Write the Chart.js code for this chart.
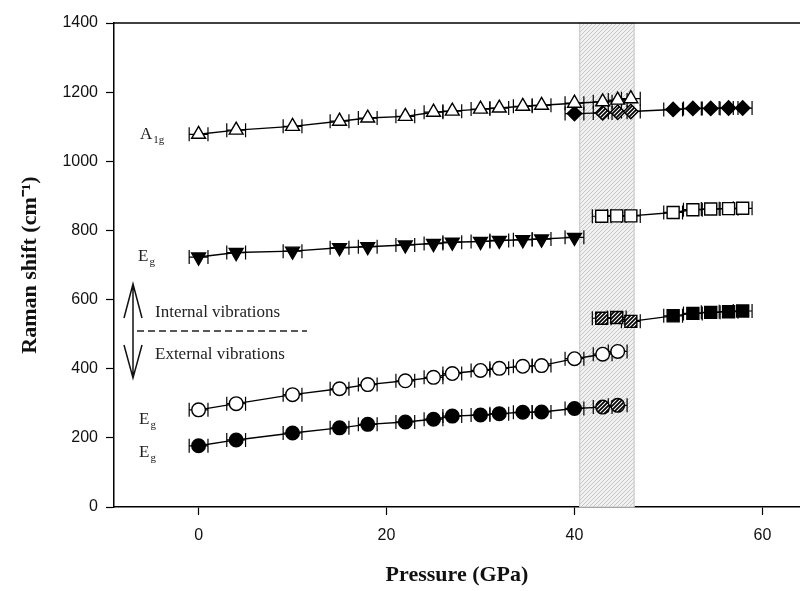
<!DOCTYPE html>
<html>
<head>
<meta charset="utf-8">
<script src="https://cdn.jsdelivr.net/npm/chart.js@4.4.1/dist/chart.umd.min.js"></script>
<style>
  html, body { margin: 0; padding: 0; background: #fff; }
  canvas { display: block; }
</style>
</head>
<body>
<canvas id="c" width="800" height="591"></canvas>
<script>
// ---------------- data ----------------
const pressures = [0, 4, 10, 15, 18, 22, 25, 27, 30, 32, 34.5, 36.5, 40, 43, 44.6, 46];
const a1gTriangles = [1078, 1090, 1101, 1116, 1125, 1130, 1142, 1145, 1151, 1154, 1159, 1162, 1168, 1172, 1177, 1181];
const diamondPressures = [40, 43, 44.6, 46, 50.5, 52.6, 54.5, 56.4, 57.9];
const a1gDiamonds = [1138, 1140, 1142, 1144, 1150, 1153, 1153, 1154, 1154];
const egInvTriangles = [723, 736, 740, 750, 753, 758, 762, 766, 768, 771, 773, 775, 780];
const squarePressures = [42.9, 44.5, 46, 50.5, 52.6, 54.5, 56.4, 57.9];
const egOpenSquares = [841, 842, 842, 852, 860, 862, 863, 864];
const egFilledSquares = [546, 548, 537, 553, 560, 563, 565, 567];
const egOpenCircles = [281, 299, 325, 342, 354, 365, 375, 386, 395, 401, 407, 409, 429, 442, 450];
const egFilledCircles = [177, 194, 214, 229, 239, 246, 254, 263, 266, 270, 274, 275, 285, 289, 294];
const pressureError = 1.0;            // GPa, horizontal error bar half-width
const transitionRange = [40.5, 46.4]; // shaded region (GPa)
const xTicks = [0, 20, 40, 60];
const xRange = [-9, 64];
const yRange = [0, 1400];

// ---------------- helpers ----------------
function pts(xs, ys) { return ys.map((v, i) => ({ x: xs[i], y: v })); }

function makePattern(bg, fg, lw, step) {
  const c = document.createElement('canvas');
  c.width = step; c.height = step;
  const g = c.getContext('2d');
  g.fillStyle = bg; g.fillRect(0, 0, step, step);
  g.strokeStyle = fg; g.lineWidth = lw;
  g.beginPath();
  g.moveTo(-1, step + 1); g.lineTo(step + 1, -1);
  g.moveTo(-1, 1); g.lineTo(1, -1);
  g.moveTo(step - 1, step + 1); g.lineTo(step + 1, step - 1);
  g.stroke();
  return document.getElementById('c').getContext('2d').createPattern(c, 'repeat');
}
const markerHatch = makePattern('#000', '#fff', 1.1, 4);
const regionHatch = makePattern('#f1f1f1', '#c2c2c2', 0.9, 4);

const inTransition = x => x > transitionRange[0] && x < transitionRange[1];
const filledFill = ctx => (ctx.raw && inTransition(ctx.raw.x)) ? markerHatch : '#000';

function series(data, style, fill, radius, rotation) {
  return {
    data: data,
    showLine: true,
    borderColor: '#000',
    borderWidth: 1.4,
    pointStyle: style,
    pointRadius: radius,
    pointRotation: rotation || 0,
    pointBackgroundColor: fill,
    pointBorderColor: '#000',
    pointBorderWidth: 1.4,
    pointHoverRadius: radius,
    tension: 0
  };
}

const datasets = [
  series(pts(pressures, a1gTriangles), 'triangle', '#fff', 8),
  series(pts(diamondPressures, a1gDiamonds), 'rectRot', filledFill, 7.2),
  series(pts(pressures, egInvTriangles), 'triangle', '#000', 8, 180),
  series(pts(squarePressures, egOpenSquares), 'rect', '#fff', 8.5),
  series(pts(squarePressures, egFilledSquares), 'rect', filledFill, 8.5),
  series(pts(pressures, egOpenCircles), 'circle', '#fff', 6.8),
  series(pts(pressures, egFilledCircles), 'circle', filledFill, 6.8)
];

// ---------------- plugins ----------------
const bgPlugin = {
  id: 'bg',
  beforeDraw(chart) {
    const g = chart.ctx;
    g.save(); g.fillStyle = '#fff'; g.fillRect(0, 0, chart.width, chart.height); g.restore();
  }
};

const regionAndErrors = {
  id: 'regionAndErrors',
  beforeDatasetsDraw(chart) {
    const g = chart.ctx, xs = chart.scales.x, a = chart.chartArea;
    // shaded transition region
    const x0 = xs.getPixelForValue(transitionRange[0]);
    const x1 = xs.getPixelForValue(transitionRange[1]);
    g.save();
    g.fillStyle = regionHatch;
    g.fillRect(x0, a.top, x1 - x0, a.bottom - a.top);
    g.strokeStyle = '#c8c8c8'; g.lineWidth = 1;
    g.strokeRect(x0 + 0.5, a.top, x1 - x0 - 1, a.bottom - a.top);
    g.restore();
    // horizontal error bars
    g.save();
    g.strokeStyle = '#000'; g.lineWidth = 1.2;
    chart.data.datasets.forEach((ds, i) => {
      const meta = chart.getDatasetMeta(i);
      meta.data.forEach((el, j) => {
        const raw = ds.data[j];
        const y = el.y;
        const xl = xs.getPixelForValue(raw.x - pressureError);
        const xr = xs.getPixelForValue(raw.x + pressureError);
        g.beginPath();
        g.moveTo(xl, y); g.lineTo(xr, y);
        g.moveTo(xl, y - 7); g.lineTo(xl, y + 7);
        g.moveTo(xr, y - 7); g.lineTo(xr, y + 7);
        g.stroke();
      });
    });
    g.restore();
  }
};

const annotations = {
  id: 'annotations',
  afterDraw(chart) {
    const g = chart.ctx, a = chart.chartArea;
    g.save();
    // top frame line
    g.strokeStyle = '#000'; g.lineWidth = 1.5;
    g.beginPath(); g.moveTo(a.left, a.top); g.lineTo(a.right, a.top); g.stroke();

    g.fillStyle = '#222';
    g.textBaseline = 'alphabetic';
    function label(main, sub, x, y) {
      g.font = '17px "Liberation Serif"';
      g.fillText(main, x, y);
      const w = g.measureText(main).width;
      g.font = '11px "Liberation Serif"';
      g.fillText(sub, x + w + 1, y + 4);
    }
    label('A', '1g', 140, 139);
    label('E', 'g', 138, 261);
    label('E', 'g', 139, 424);
    label('E', 'g', 139, 457);

    g.font = '17px "Liberation Serif"';
    g.textBaseline = 'middle';
    g.fillText('Internal vibrations', 155, 313);
    g.fillText('External vibrations', 155, 355);

    // dashed divider
    g.strokeStyle = '#222'; g.lineWidth = 1.5;
    g.setLineDash([7, 4]);
    g.beginPath(); g.moveTo(137, 331); g.lineTo(307, 331); g.stroke();
    g.setLineDash([]);

    // double-headed arrow
    g.strokeStyle = '#111'; g.lineWidth = 1.5;
    g.beginPath();
    g.moveTo(133, 284); g.lineTo(133, 378);
    g.moveTo(124, 318); g.lineTo(133, 284); g.lineTo(142, 318);
    g.moveTo(124, 345); g.lineTo(133, 378); g.lineTo(142, 345);
    g.stroke();
    g.restore();
  }
};

// ---------------- chart ----------------
new Chart(document.getElementById('c'), {
  type: 'scatter',
  data: { datasets: datasets },
  options: {
    responsive: false,
    animation: false,
    devicePixelRatio: 1,
    layout: { autoPadding: false, padding: { top: 23, right: 0, bottom: 0, left: 0 } },
    plugins: { legend: { display: false }, tooltip: { enabled: false } },
    scales: {
      x: {
        type: 'linear',
        min: xRange[0], max: xRange[1],
        afterBuildTicks: s => { s.ticks = xTicks.map(v => ({ value: v })); },
        afterFit: s => { s.height = 84; s.paddingLeft = 0; s.paddingRight = 0; },
        grid: { drawOnChartArea: false, drawTicks: true, tickLength: 8, tickColor: '#000', tickWidth: 1.2 },
        border: { display: true, color: '#000', width: 1.5 },
        ticks: { color: '#111', font: { family: 'Liberation Sans', size: 16 }, padding: 11, maxRotation: 0,
                 callback: v => String(v) },
        title: { display: true, text: 'Pressure (GPa)', color: '#111',
                 font: { family: 'Liberation Serif', size: 22, weight: 'bold' }, padding: { top: 0, bottom: 2 } }
      },
      y: {
        type: 'linear',
        min: yRange[0], max: yRange[1],
        ticks: { stepSize: 200, color: '#111', font: { family: 'Liberation Sans', size: 16 }, padding: 8,
                 callback: v => String(v) },
        afterFit: s => { s.width = 114; s.paddingTop = 0; s.paddingBottom = 0; },
        grid: { drawOnChartArea: false, drawTicks: true, tickLength: 8, tickColor: '#000', tickWidth: 1.2 },
        border: { display: true, color: '#000', width: 1.5 },
        title: { display: true, text: 'Raman shift (cm\u207B\u00B9)', color: '#111',
                 font: { family: 'Liberation Serif', size: 22, weight: 'bold' }, padding: { top: 17, bottom: 0 } }
      }
    }
  },
  plugins: [bgPlugin, regionAndErrors, annotations]
});
</script>
</body>
</html>
